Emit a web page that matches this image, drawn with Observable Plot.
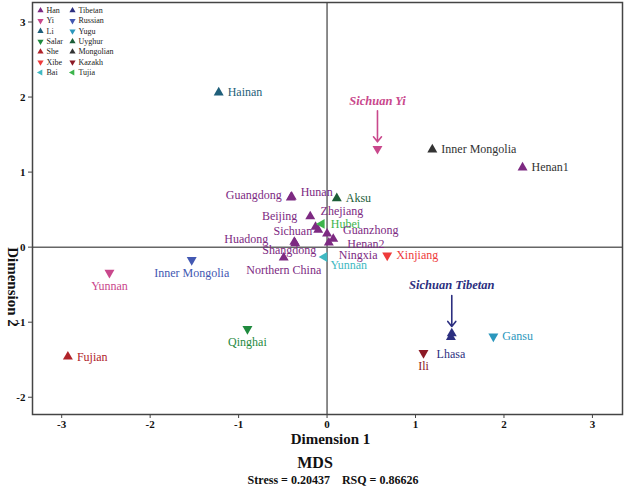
<!DOCTYPE html>
<html><head><meta charset="utf-8">
<script src="https://cdn.jsdelivr.net/npm/d3@7"></script>
<script src="https://cdn.jsdelivr.net/npm/@observablehq/plot@0.6"></script>
<style>
body{margin:0;background:#fff;font-family:"Liberation Serif","Times New Roman",serif;}
#wrap{position:relative;width:625px;height:488px;overflow:hidden;}
#legend{position:absolute;left:0;top:0;}
.cap{position:absolute;transform:translateX(-50%);font-weight:bold;white-space:pre;color:#111;line-height:1;}
</style></head><body><div id="wrap"><div id="main"></div><div id="legend"></div></div>
<script>
// ---- data ----
const names = ["Hainan","Sichuan Yi","Inner Mongolia","Henan1","Guangdong","Hunan","Aksu","Beijing","Zhejiang","Hubei","Sichuan","Huadong","Shangdong","Northern China","Guanzhong","Henan2","Ningxia","Yunnan","Xinjiang","Yunnan","Inner Mongolia","Qinghai","Fujian","Lhasa","Sichuan Tibetan","Gansu","Ili"];
const groups = ["Li","Yi","Mongolian","Han","Han","Han","Uyghur","Han","Han","Tujia","Han","Han","Han","Han","Han","Han","Han","Bai","Xibe","Yi","Russian","Salar","She","Tibetan","Tibetan","Yugu","Kazakh"];
const dim1 = [-1.225,0.57,1.19,2.21,-0.41,-0.40,0.11,-0.19,-0.13,-0.06,-0.10,-0.37,-0.36,-0.49,0.00,0.07,0.02,-0.03,0.68,-2.46,-1.53,-0.90,-2.93,1.40,1.41,1.88,1.09];
const dim2 = [2.06,1.31,1.30,1.06,0.66,0.67,0.65,0.41,0.27,0.31,0.23,0.07,0.05,-0.14,0.18,0.11,0.06,-0.13,-0.11,-0.34,-0.17,-1.09,-1.46,-1.20,-1.15,-1.19,-1.41];
const legendGroups = ["Han","Yi","Li","Salar","She","Xibe","Bai","Tibetan","Russian","Yugu","Uyghur","Mongolian","Kazakh","Tujia"];
const annotated = ["Sichuan Yi","Sichuan Tibetan"];
const xTicks = [-3,-2,-1,0,1,2,3];
const yTicks = [-2,-1,0,1,2,3];
const xTitle = "Dimension 1", yTitle = "Dimension 2";
const title = "MDS";
const stressText = "Stress = 0.20437    RSQ = 0.86626";

// ---- styles ----
const groupColors = {Han:"#7d2a82",Yi:"#c9488c",Li:"#1f5f7a",Salar:"#1f8a3e",She:"#b0232a",Xibe:"#ee3a3a",Bai:"#3fb9c2",
  Tibetan:"#2c2f80",Russian:"#4358b2",Yugu:"#2b97bd",Uyghur:"#1b5e38",Mongolian:"#333333",Kazakh:"#8c1a26",Tujia:"#3cb44b"};
const groupShape = {Han:"up",Yi:"down",Li:"up",Salar:"down",She:"up",Xibe:"down",Bai:"left",
  Tibetan:"up",Russian:"down",Yugu:"down",Uyghur:"up",Mongolian:"up",Kazakh:"down",Tujia:"left"};
const labelColorOverride = {"Henan1":"#333333"};
const placements = {
  r:{dx:9,dy:0,textAnchor:"start"},
  l:{dx:-9,dy:-2,textAnchor:"end"},
  b:{dx:0,dy:13,textAnchor:"middle"},
  b2:{dx:0,dy:17,textAnchor:"middle"},
  hunan:{dx:9,dy:-5,textAnchor:"start"},
  beijing:{dx:-13,dy:0,textAnchor:"end"},
  zhejiang:{dx:5,dy:-16,textAnchor:"start"},
  sichuan:{dx:-6,dy:1,textAnchor:"end"},
  huadong:{dx:-26,dy:-3,textAnchor:"end"},
  shangdong:{dx:-6,dy:7,textAnchor:"middle"},
  guanzhong:{dx:16,dy:-3,textAnchor:"start"},
  henan2:{dx:14,dy:5,textAnchor:"start"},
  ningxia:{dx:10,dy:13,textAnchor:"start"},
  yunnanbai:{dx:6,dy:8,textAnchor:"start"}
};
const labelPlace = {"Guangdong/Han":"l","Hunan/Han":"hunan","Beijing/Han":"beijing","Zhejiang/Han":"zhejiang",
  "Sichuan/Han":"sichuan","Huadong/Han":"huadong","Shangdong/Han":"shangdong","Northern China/Han":"b",
  "Guanzhong/Han":"guanzhong","Henan2/Han":"henan2","Ningxia/Han":"ningxia","Yunnan/Bai":"yunnanbai",
  "Yunnan/Yi":"b","Inner Mongolia/Russian":"b","Qinghai/Salar":"b","Lhasa/Tibetan":"b2","Ili/Kazakh":"b"};

const points = names.map((n,i)=>({name:n, group:groups[i], x:dim1[i], y:dim2[i],
  place: labelPlace[n+"/"+groups[i]] || "r"}));

const s3 = Math.sqrt(3);
function tri(dir){
  return {draw(ctx, size){
    const y = -Math.sqrt(size/(s3*3));
    let pts = [[0,2*y],[-s3*y,-y],[s3*y,-y]];
    if (dir==="down") pts = pts.map(p=>[p[0],-p[1]]);
    if (dir==="left") pts = pts.map(p=>[p[1],p[0]]);
    ctx.moveTo(pts[0][0],pts[0][1]); ctx.lineTo(pts[1][0],pts[1][1]); ctx.lineTo(pts[2][0],pts[2][1]); ctx.closePath();
  }};
}
const arrowShape = {draw(ctx, l){
  ctx.moveTo(0,0); ctx.lineTo(0,-l);
  ctx.moveTo(-4,-l+5); ctx.lineTo(0,-l); ctx.lineTo(4,-l+5);
}};
const font = '"Liberation Serif","Times New Roman",serif';
const col = d => groupColors[d.group];

const dotMarks = ["up","down","left"].map(dir =>
  Plot.dot(points.filter(d=>groupShape[d.group]===dir), {x:"x", y:"y", fill:col, symbol:tri(dir), r:3.7}));
const labelled = points.filter(d=>!annotated.includes(d.name));
const textMarks = Object.entries(placements).map(([k,p]) =>
  Plot.text(labelled.filter(d=>d.place===k), {x:"x", y:"y", text:"name",
    fill:d=>labelColorOverride[d.name]||col(d), fontSize:12, ...p}));
const ann = points.filter(d=>annotated.includes(d.name));

const main = Plot.plot({
  width:625, height:450,
  marginLeft:32, marginRight:3, marginTop:2, marginBottom:36,
  style:{fontFamily:font, background:"#fff", overflow:"visible"},
  x:{domain:[-3.33,3.34]},
  y:{domain:[-2.23,3.26]},
  marks:[
    Plot.ruleX([0],{stroke:"#666",strokeWidth:1.5}),
    Plot.ruleY([0],{stroke:"#666",strokeWidth:1.5}),
    Plot.frame({stroke:"#444",strokeWidth:1.5}),
    Plot.axisX({ticks:xTicks, tickSize:4, tickPadding:2, tickFormat:d=>String(d), fontSize:11, fontWeight:"bold", label:null, stroke:"#444", fill:"#111"}),
    Plot.axisY({ticks:yTicks, tickSize:4, tickPadding:3, tickFormat:d=>String(d), fontSize:11, fontWeight:"bold", label:null, stroke:"#444", fill:"#111"}),
    Plot.text([xTitle],{frameAnchor:"bottom", dy:29, dx:3, fontSize:15, fontWeight:"bold", fill:"#111"}),
    Plot.text([0],{y:d=>d, text:()=>yTitle, frameAnchor:"left", dx:-20, rotate:90, fontSize:15, fontWeight:"bold", fill:"#111"}),
    ...dotMarks,
    ...textMarks,
    Plot.vector(ann, {x:"x", y:"y", length:31, rotate:180, anchor:"end", dy:-7, shape:arrowShape, stroke:col, strokeWidth:1.6}),
    Plot.text(ann, {x:"x", y:"y", text:"name", dy:-48, fill:col, fontSize:12.5, fontWeight:"bold", fontStyle:"italic"})
  ]
});
document.getElementById("main").appendChild(main);

// legend
const leg = legendGroups.map((g,i)=>({group:g, c:i<7?0:1, r:i%7}));
const legend = Plot.plot({
  width:120, height:80, margin:0,
  style:{fontFamily:font, background:"transparent", overflow:"visible"},
  x:{domain:[0,1], range:[40,72], axis:null},
  y:{domain:[0,6], range:[10,72], axis:null},
  marks:[
    ...["up","down","left"].map(dir=>Plot.dot(leg.filter(d=>groupShape[d.group]===dir),{x:"c",y:"r",fill:col,symbol:tri(dir),r:2.3})),
    Plot.text(leg,{x:"c",y:"r",text:"group",dx:6,textAnchor:"start",fontSize:8,fill:"#222"})
  ]
});
document.getElementById("legend").appendChild(legend);

// captions
const wrap = document.getElementById("wrap");
const c1 = document.createElement("div"); c1.className="cap"; c1.textContent=title;
c1.style.cssText += "left:315px;top:455px;font-size:16px;";
const c2 = document.createElement("div"); c2.className="cap"; c2.textContent=stressText;
c2.style.cssText += "left:333px;top:474px;font-size:12px;";
wrap.appendChild(c1); wrap.appendChild(c2);
</script></body></html>
